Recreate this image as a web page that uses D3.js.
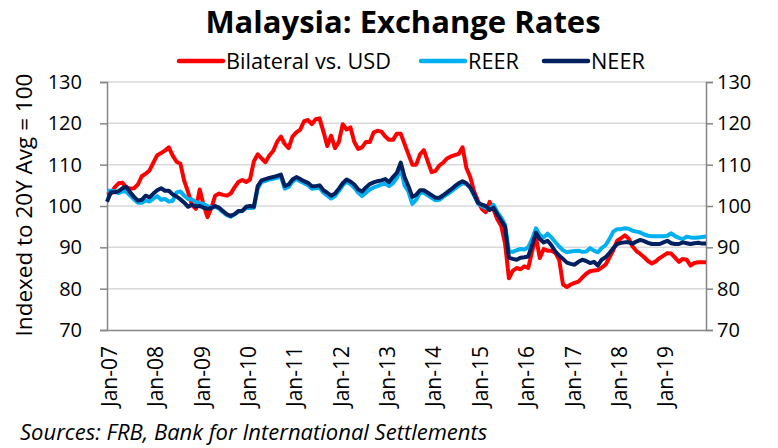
<!DOCTYPE html>
<html>
<head>
<meta charset="utf-8">
<script src="https://cdn.jsdelivr.net/npm/d3@7"></script>
<style>
  body { margin: 0; background: #fff; }
  svg { display: block; }
  text { font-family: "Open Sans", Lato, sans-serif; fill: #000; }
</style>
</head>
<body>
<div id="chart"></div>
<script>
// monthly, Jan-07 .. Dec-19
var bilateral = [
  102.8, 103, 104.5, 105.5, 105.6, 104.5, 104.2, 104.3, 105.2, 107.2, 107.8, 108.6,
  110.5, 112.3, 112.8, 113.4, 114.2, 112.2, 110.7, 110.2, 106, 103.3, 100.2, 99.3,
  104, 100.2, 97.3, 99.5, 102.5, 103, 102.7, 102.5, 103, 104.5, 105.8, 106.3,
  105.8, 106.4, 110.8, 112.5, 111.5, 110.6, 112.2, 113.3, 115.5, 116.8, 115, 114,
  116.8, 117.8, 118.5, 120.5, 120.8, 119.8, 121, 121.2, 118, 114.5, 117, 114,
  115.5, 119.8, 118.5, 119, 115.5, 113.8, 114.2, 115.5, 115.5, 117.8, 118.2, 118,
  116.8, 116, 116, 117.5, 117.5, 115, 112.5, 110, 110, 112.5, 113.5, 110.8,
  108.2, 108.5, 109.8, 110.5, 111.5, 112, 112.3, 112.6, 114.2, 109.2, 107, 103.5,
  101.2, 99.3, 98.5, 101, 99.2, 96.8, 95.2, 91, 82.5, 84.3, 85, 84.7,
  85.4, 85, 89, 92.5, 87.4, 89.6, 89.2, 89.2, 88.7, 87, 81, 80.4,
  81, 81.4, 81.7, 82.7, 83.6, 84.2, 84.4, 84.5, 85.1, 85.8, 87.5, 89.3,
  91.6, 92.2, 92.9, 92.1, 90.2, 89.1, 88.4, 87.6, 86.7, 86.1, 86.6, 87.4,
  88, 88.6, 88.5, 87.5, 86.5, 87.2, 87, 85.6, 86.2, 86.4, 86.4, 86.4
];
var reer = [
  103.7, 103.7, 103.6, 103.1, 103.5, 103.5, 102.5, 101.6, 100.8, 100.8, 101.3, 101.1,
  101.8, 102.4, 101.5, 101.7, 101.1, 101.2, 103.3, 103.5, 102.5, 101.7, 101.6, 101,
  100.7, 100.5, 100, 99.6, 99.8, 99.4, 98.5, 97.8, 97.4, 98, 98.6, 98.8,
  99.5, 99.5, 99.6, 104.2, 105.8, 106.1, 106.4, 106.6, 106.8, 107.1, 104.2, 104.6,
  105.9, 106.5, 106, 105.5, 105, 104.2, 104.3, 104.4, 103.2, 102.5, 101.8, 102.4,
  103.6, 105, 105.8, 105.3, 104.4, 103.2, 102.4, 103.2, 104, 104.5, 104.8, 105.2,
  105.4, 104.8, 105.5, 106.8, 109, 105, 103.5, 100.5, 101.5, 103.2, 103.2, 102.6,
  102, 101.4, 101.5, 102.2, 102.8, 103.5, 104.2, 104.9, 105.5, 105.3, 104.4, 102.5,
  100.6, 100, 99.5, 99.2, 100.3, 98.5, 97.2, 95.5, 89, 88.9, 89.3, 89.6,
  89.5, 90, 92, 94.6, 93, 92.4, 93.3, 92.4, 91.3, 90.2, 89.3, 88.8,
  89, 89.1, 89.2, 88.9, 89, 89.8, 89.2, 88.8, 89.8, 90.5, 92, 93.8,
  94.4, 94.4, 94.6, 94.5, 94, 93.8, 93.6, 93.1, 92.8, 92.7, 92.7, 92.7,
  92.7, 92.8, 93.4, 92.7, 92.3, 92, 92.6, 92.4, 92.3, 92.4, 92.5, 92.6
];
var neer = [
  101, 103.3, 103.3, 103.6, 104.3, 104.6, 103.3, 102.2, 101.3, 101.5, 102.5, 102.1,
  103, 103.8, 104.3, 103.7, 103.7, 102.8, 102.3, 101.6, 100.8, 99.8, 100.3, 99.9,
  100, 99.6, 99.3, 99.5, 100, 99.6, 98.8, 98, 97.6, 98, 98.8, 98.8,
  99.8, 100, 99.8, 104.8, 106.2, 106.5, 106.8, 107, 107.3, 107.6, 104.8, 105.2,
  106.4, 107, 106.5, 106, 105.6, 104.8, 104.8, 105, 103.8, 103.2, 102.5, 103,
  104.2, 105.5, 106.4, 105.9, 105.2, 104, 103.5, 104.5, 105.3, 105.7, 106, 106.2,
  106.5, 105.8, 107, 108, 110.5, 107, 104.8, 102.2, 102.7, 103.8, 103.8, 103.2,
  102.6, 102, 102, 102.6, 103.3, 104, 104.8, 105.5, 106, 105.5, 104.5, 102.8,
  100.8, 100.3, 100, 99, 99.6, 98, 96.5, 95, 87.5, 87.2, 87, 87.5,
  87.6, 87.8, 90.5, 93.5, 92, 91.2, 91.6, 90.5, 89, 88, 87.2, 86.3,
  86, 85.8, 86.5, 87, 86.7, 86.2, 86.5, 85.6, 87, 87.6, 88.6, 89.8,
  90.8, 91.1, 91.2, 91.2, 90.9, 91.4, 91.8, 91.5, 91.1, 90.8, 90.8, 90.8,
  91.2, 91.6, 91, 90.8, 90.8, 91.2, 91, 90.8, 91, 91.1, 90.9, 90.9
];
var seriesNames = ["Bilateral vs. USD", "REER", "NEER"];
var seriesColors = ["#ff0000", "#00b0f0", "#002060"];
var xTickLabels = ["Jan-07", "Jan-08", "Jan-09", "Jan-10", "Jan-11", "Jan-12", "Jan-13",
                   "Jan-14", "Jan-15", "Jan-16", "Jan-17", "Jan-18", "Jan-19"];
var yTicks = [70, 80, 90, 100, 110, 120, 130];

var width = 778, height = 448;
var plot = { left: 107, right: 706, top: 82, bottom: 330 };

var svg = d3.select("#chart").append("svg")
    .attr("width", width)
    .attr("height", height);

var x = d3.scaleLinear()
    .domain([0, bilateral.length - 1])
    .range([plot.left, plot.right]);

var y = d3.scaleLinear()
    .domain([70, 130])
    .range([plot.bottom, plot.top]);

// gridlines
svg.append("g")
    .selectAll("line")
    .data(yTicks.slice(1))
    .enter().append("line")
    .attr("x1", plot.left).attr("x2", plot.right)
    .attr("y1", function(d) { return y(d); })
    .attr("y2", function(d) { return y(d); })
    .attr("stroke", "#d9d9d9")
    .attr("stroke-width", 1.5);

// left axis
var yAxisL = d3.axisLeft(y).tickValues(yTicks).tickSize(7).tickPadding(18);
var gL = svg.append("g")
    .attr("transform", "translate(" + plot.left + ",0)")
    .call(yAxisL);

// right axis
var yAxisR = d3.axisRight(y).tickValues(yTicks).tickSize(7).tickPadding(4);
var gR = svg.append("g")
    .attr("transform", "translate(" + plot.right + ",0)")
    .call(yAxisR);

[gL, gR].forEach(function(g) {
  g.select(".domain").attr("stroke", "#868686").attr("stroke-width", 1.5);
  g.selectAll(".tick line").attr("stroke", "#868686").attr("stroke-width", 1.5);
  g.selectAll(".tick text")
    .style("font-size", "20px")
    .attr("fill", "#000");
});

// bottom axis
var xTickIdx = xTickLabels.map(function(d, i) { return i * 12; });
var xAxis = d3.axisBottom(x).tickValues(xTickIdx).tickSize(0)
    .tickFormat(function(d, i) { return xTickLabels[i]; });
var gX = svg.append("g")
    .attr("transform", "translate(0," + plot.bottom + ")")
    .call(xAxis);
gX.select(".domain").attr("stroke", "#868686").attr("stroke-width", 1.5);
gX.selectAll(".tick text")
    .style("font-size", "21px")
    .attr("fill", "#000")
    .attr("text-anchor", "end")
    .attr("transform", "rotate(-90)")
    .attr("x", -16)
    .attr("y", 2)
    .attr("dy", "0.35em")
    .attr("dx", 0);

// series lines
var line = d3.line()
    .x(function(d, i) { return x(i); })
    .y(function(d) { return y(d); });

[bilateral, reer, neer].forEach(function(values, k) {
  svg.append("path")
      .datum(values)
      .attr("fill", "none")
      .attr("stroke", seriesColors[k])
      .attr("stroke-width", 4)
      .attr("stroke-linejoin", "round")
      .attr("d", line);
});

// title
svg.append("text")
    .attr("x", 403)
    .attr("y", 33)
    .attr("text-anchor", "middle")
    .style("font-size", "31px")
    .style("font-weight", "bold")
    .text("Malaysia: Exchange Rates");

// legend
var legendX = [178, 420, 543];
var legend = svg.append("g").selectAll("g")
    .data(seriesNames)
    .enter().append("g")
    .attr("transform", function(d, i) { return "translate(" + legendX[i] + ",61)"; });
legend.append("line")
    .attr("x1", 1).attr("x2", 45)
    .attr("stroke", function(d, i) { return seriesColors[i]; })
    .attr("stroke-width", 4.5)
    .attr("stroke-linecap", "round");
legend.append("text")
    .attr("x", 48)
    .attr("dy", "0.35em")
    .style("font-size", "21.7px")
    .text(function(d) { return d; });

// y axis title
svg.append("text")
    .attr("transform", "translate(32,205) rotate(-90)")
    .attr("text-anchor", "middle")
    .style("font-size", "22.5px")
    .text("Indexed to 20Y Avg = 100");

// source
svg.append("text")
    .attr("x", 20)
    .attr("y", 440)
    .style("font-size", "22px")
    .style("font-style", "italic")
    .text("Sources: FRB, Bank for International Settlements");
</script>
</body>
</html>
